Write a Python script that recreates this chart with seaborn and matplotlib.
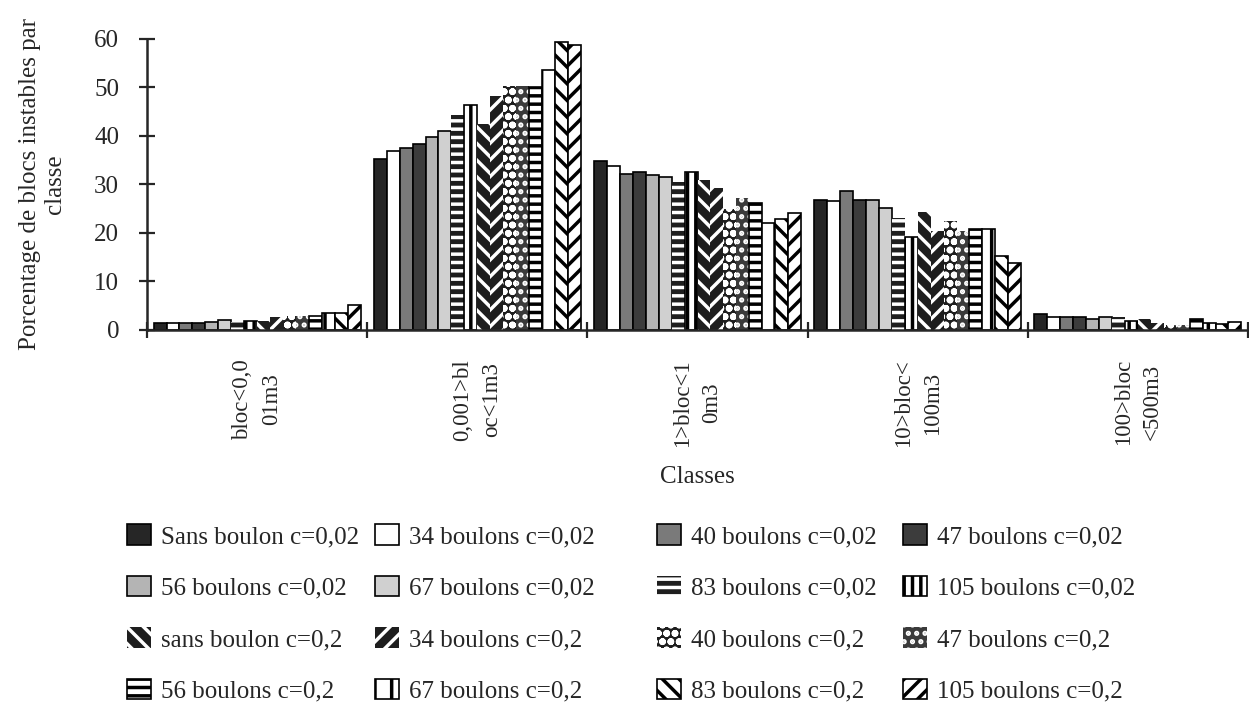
import numpy as np
import pandas as pd
import matplotlib.pyplot as plt
import seaborn as sns

# Classes de volume (libellés sur deux lignes comme dans l'original)
classes = ['bloc<0,0\n01m3', '0,001>bl\noc<1m3', '1>bloc<1\n0m3', '10>bloc<\n100m3', '100>bloc\n<500m3']

series = ['Sans boulon c=0,02', '34 boulons c=0,02', '40 boulons c=0,02', '47 boulons c=0,02',
          '56 boulons c=0,02', '67 boulons c=0,02', '83 boulons c=0,02', '105 boulons c=0,02',
          'sans boulon c=0,2', '34 boulons c=0,2', '40 boulons c=0,2', '47 boulons c=0,2',
          '56 boulons c=0,2', '67 boulons c=0,2', '83 boulons c=0,2', '105 boulons c=0,2']

# Pourcentage de blocs instables, une liste par classe (ordre des séries)
pct_tres_petits = [1.5, 1.5, 1.5, 1.5, 1.7, 2.1, 1.6, 1.9, 1.9, 2.6, 2.9, 2.8, 2.8, 3.6, 3.6, 5.1]
pct_petits = [35.3, 36.9, 37.5, 38.2, 39.8, 40.9, 44.2, 46.4, 42.4, 48.1, 50.2, 50.2, 50.0, 53.5, 59.2, 58.7]
pct_moyens = [34.8, 33.8, 32.2, 32.6, 31.9, 31.5, 30.5, 32.6, 30.9, 29.2, 24.9, 27.2, 26.1, 22.0, 22.8, 24.1]
pct_gros = [26.8, 26.5, 28.6, 26.8, 26.7, 25.1, 23.0, 19.1, 24.3, 20.3, 22.4, 20.3, 20.7, 20.7, 15.3, 13.7]
pct_tres_gros = [3.3, 2.7, 2.7, 2.6, 2.2, 2.7, 2.6, 1.9, 2.2, 1.5, 1.0, 1.0, 2.2, 1.5, 1.2, 1.7]

df = pd.DataFrame({
    'classe': np.repeat(classes, len(series)),
    'serie': series * len(classes),
    'pct': np.concatenate([pct_tres_petits, pct_petits, pct_moyens, pct_gros, pct_tres_gros]),
})

# (remplissage, couleur du motif, motif) pour imiter les trames noir/blanc
styles = [
    ('#262626', 'black', ''),
    ('white', 'black', ''),
    ('#7a7a7a', 'black', ''),
    ('#3c3c3c', 'black', ''),
    ('#b4b4b4', 'black', ''),
    ('#d0d0d0', 'black', ''),
    ('#1e1e1e', 'white', '--'),
    ('white', 'black', '||'),
    ('#1e1e1e', 'white', '\\\\'),
    ('#1e1e1e', 'white', '//'),
    ('#1e1e1e', 'white', 'oo'),
    ('#3a3a3a', 'white', '..'),
    ('white', 'black', '--'),
    ('white', 'black', '|'),
    ('white', 'black', '\\\\'),
    ('white', 'black', '//'),
]

sns.set_style('ticks')
plt.rcParams['font.family'] = ['Liberation Serif', 'DejaVu Serif']
plt.rcParams['hatch.linewidth'] = 2.5

W, H = 1249, 717
fig = plt.figure(figsize=(W / 100, H / 100), dpi=100)
ax = fig.add_axes([147 / W, 1 - 330 / H, (1248 - 147) / W, (330 - 38.5) / H])

sns.barplot(data=df, x='classe', y='pct', hue='serie', order=classes, hue_order=series,
            palette=[s[0] for s in styles], width=0.94, gap=0, saturation=1,
            edgecolor='black', linewidth=1.2, legend=False, ax=ax)

for cont, (face, hcol, hatch) in zip(ax.containers, styles):
    for p in cont:
        p.set_hatch(hatch)
        if hcol == 'white':
            p.set_edgecolor('white')
            p.set_linewidth(0)

ax.set_ylim(0, 60)
ax.set_yticks(range(0, 61, 10))
ax.set_xlim(-0.5, 4.5)
ax.set_xticks(range(len(classes)))
ax.set_xticklabels(classes, rotation=90, linespacing=1.5, ha='center', va='top',
                   multialignment='center', fontsize=16.5)
ax.set_xticks(np.arange(-0.5, len(classes), 1), minor=True)
ax.tick_params(axis='x', which='major', length=0, pad=21)
ax.tick_params(axis='x', which='minor', direction='inout', length=12, width=1.6)
ax.tick_params(axis='y', direction='inout', length=12, width=1.6, pad=14, labelsize=18)
sns.despine(ax=ax)
for s in ['left', 'bottom']:
    ax.spines[s].set_linewidth(1.8)

ax.set_ylabel('Porcentage de blocs instables par\nclasse', fontsize=18, labelpad=20)
ax.set_xlabel('Classes', fontsize=18, labelpad=14)

# Légende sur 4 colonnes, remplie ligne par ligne
col_x = [127, 375, 657, 903]
for c in range(4):
    idx = [r * 4 + c for r in range(4)]
    fig.legend([ax.containers[i] for i in idx], [series[i] for i in idx],
               loc='upper left', bbox_to_anchor=(col_x[c] / W, 1 - 524 / H),
               frameon=False, fontsize=18, handlelength=0.95, handleheight=0.9,
               handletextpad=0.4, labelspacing=1.1, borderpad=0, borderaxespad=0)

fig.savefig('out.png', dpi=100)
